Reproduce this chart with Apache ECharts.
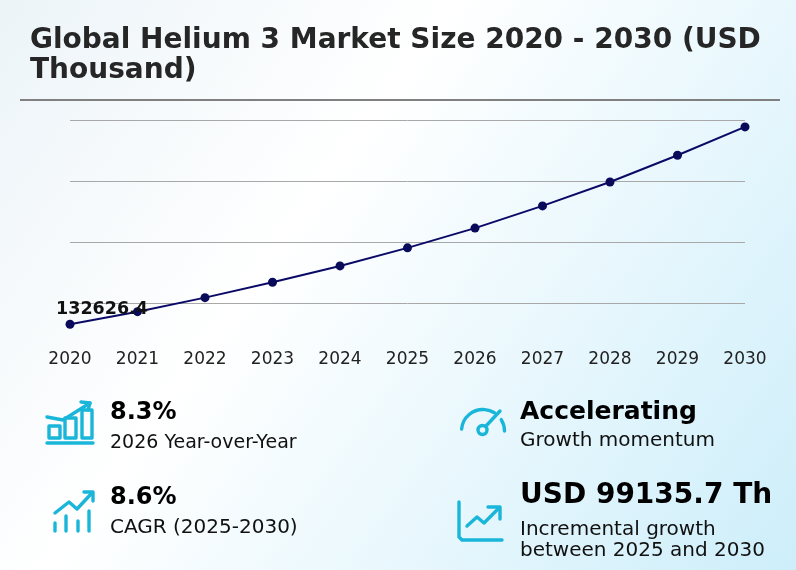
<!DOCTYPE html>
<html>
<head>
<meta charset="utf-8">
<script src="https://cdn.jsdelivr.net/npm/echarts@6/dist/echarts.min.js"></script>
<style>
  html, body { margin: 0; padding: 0; }
  #chart { width: 796px; height: 570px; }
</style>
</head>
<body>
<div id="chart"></div>
<script>
// market size, USD thousand
var years = ['2020', '2021', '2022', '2023', '2024', '2025', '2026', '2027', '2028', '2029', '2030']
var marketSize = [132626.4, 142900, 154400, 167000, 180400, 195200, 211400, 229600, 249200, 271100, 294335.7]
var yTicks = [100000, 150000, 200000, 250000, 300000]

var titleLines = ['Global Helium 3 Market Size 2020 - 2030 (USD', 'Thousand)']
var kpiValues = ['8.3%', '8.6%', 'Accelerating', 'USD 99135.7 Th']
var kpiLabels = ['2026 Year-over-Year', 'CAGR (2025-2030)', 'Growth momentum', 'Incremental growth\nbetween 2025 and 2030']

var FONT = 'DejaVu Sans'
var ICON = '#1ab6d9'

function initMarketChart() {
  let chart = echarts.init(document.getElementById('chart'))

  var iconStyle = {
    stroke: ICON,
    fill: null,
    lineWidth: 3.4,
    lineCap: 'round',
    lineJoin: 'round',
  }

  function line(points) {
    return { type: 'polyline', shape: { points: points }, style: iconStyle, silent: true }
  }

  var icons = [
    // bar chart + arrow
    line([[47, 417], [63, 420], [90, 403]]),
    line([[81, 402], [90, 403], [88, 410]]),
    { type: 'rect', shape: { x: 49, y: 426, width: 11, height: 12 }, style: iconStyle },
    { type: 'rect', shape: { x: 65, y: 418, width: 11, height: 20 }, style: iconStyle },
    { type: 'rect', shape: { x: 82, y: 410, width: 10, height: 28 }, style: iconStyle },
    line([[47, 443], [93, 443]]),
    // trend + bars
    line([[55, 513], [69, 502], [77, 509], [91, 494]]),
    line([[84, 492], [93, 492], [93, 501]]),
    line([[55, 523], [55, 531]]),
    line([[66, 516], [66, 531]]),
    line([[78, 521], [78, 531]]),
    line([[89, 511], [89, 531]]),
    // gauge
    {
      type: 'arc',
      shape: { cx: 483, cy: 431, r: 21.5, startAngle: (-175 * Math.PI) / 180, endAngle: (-58 * Math.PI) / 180, clockwise: true },
      style: iconStyle,
    },
    {
      type: 'arc',
      shape: { cx: 483, cy: 431, r: 21.5, startAngle: (-32 * Math.PI) / 180, endAngle: (0 * Math.PI) / 180, clockwise: true },
      style: iconStyle,
    },
    { type: 'circle', shape: { cx: 482.5, cy: 430, r: 4.5 }, style: iconStyle },
    line([[486, 426], [500, 411]]),
    // area trend
    line([[459, 502], [459, 537], [462, 540], [502, 540]]),
    line([[467, 526], [477, 517], [484, 523], [498, 509]]),
    line([[488, 507], [500, 507], [500, 519]]),
  ]

  function text(x, y, str, size, weight, color, lineHeight) {
    return {
      type: 'text',
      x: x,
      y: y,
      silent: true,
      style: {
        text: str,
        fontFamily: FONT,
        fontSize: size,
        fontWeight: weight,
        fill: color,
        textVerticalAlign: 'bottom',
        lineHeight: lineHeight || size * 1.2,
      },
    }
  }

  var texts = [
    text(30, 58, titleLines[0], 28, 'bold', '#262626'),
    text(30, 88, titleLines[1], 28, 'bold', '#262626'),
    text(110, 427, kpiValues[0], 24, 'bold', '#000'),
    text(110, 454, kpiLabels[0], 19, 'normal', '#111'),
    text(110, 512, kpiValues[1], 24, 'bold', '#000'),
    text(110, 540, kpiLabels[1], 20, 'normal', '#111'),
    text(520, 427, kpiValues[2], 25, 'bold', '#000'),
    text(520, 453, kpiLabels[2], 20, 'normal', '#111'),
    text(520, 513, kpiValues[3], 28, 'bold', '#000'),
    text(520, 561, kpiLabels[3], 20, 'normal', '#111', 21),
  ]

  var option = {
    backgroundColor: {
      type: 'linear',
      x: 0,
      y: 0,
      x2: 1,
      y2: 1,
      colorStops: [
        { offset: 0, color: '#ecf4f8' },
        { offset: 0.38, color: '#ffffff' },
        { offset: 1, color: '#cdeefa' },
      ],
    },
    textStyle: { fontFamily: FONT },
    animation: false,
    grid: {
      left: 70,
      right: 51,
      top: 120,
      bottom: 206,
      outerBoundsMode: 'none',
    },
    xAxis: {
      type: 'category',
      data: years,
      boundaryGap: false,
      offset: -22,
      axisLine: { show: false, onZero: false },
      axisTick: { show: false },
      axisLabel: {
        color: '#222',
        fontSize: 17,
        margin: 9,
        fontFamily: FONT,
      },
    },
    yAxis: {
      type: 'value',
      min: yTicks[0],
      max: yTicks[yTicks.length - 1],
      interval: yTicks[1] - yTicks[0],
      axisLine: { show: false },
      axisTick: { show: false },
      axisLabel: { show: false },
      splitLine: {
        show: true,
        showMinLine: false,
        lineStyle: { color: '#a8a8a8', width: 1 },
      },
    },
    series: [
      {
        type: 'line',
        data: marketSize.map(function (v, i) {
          return i === 0
            ? {
                value: v,
                label: {
                  show: true,
                  position: 'top',
                  offset: [32, 4],
                  color: '#111',
                  fontWeight: 'bold',
                  fontSize: 17.5,
                  fontFamily: FONT,
                },
              }
            : v
        }),
        symbol: 'circle',
        symbolSize: 9,
        lineStyle: { color: '#0a0a66', width: 2 },
        itemStyle: { color: '#0a0a5a' },
        label: { show: false },
        z: 3,
      },
    ],
    graphic: [
      {
        type: 'line',
        shape: { x1: 20, y1: 100, x2: 780, y2: 100 },
        style: { stroke: '#808080', lineWidth: 2 },
        silent: true,
      },
    ]
      .concat(texts)
      .concat(icons),
  }
  chart.setOption(option)

  window.addEventListener('resize', function () {
    chart.resize()
  })
}

initMarketChart()
</script>
</body>
</html>
